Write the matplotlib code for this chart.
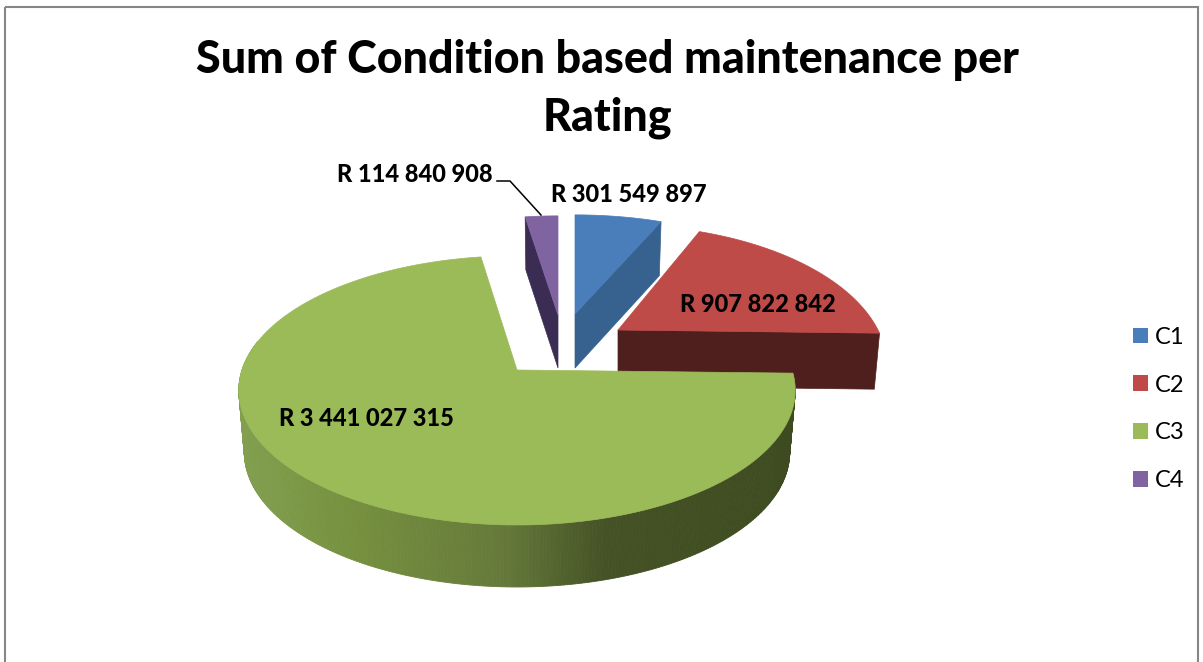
"""
Sum of Condition based maintenance per Rating - fake 3D exploded pie
"""

import numpy as np
import matplotlib
matplotlib.use("Agg")
import matplotlib.pyplot as plt
from matplotlib.colors import LinearSegmentedColormap
from matplotlib.patches import Patch, Polygon, Rectangle

categories = ["C1", "C2", "C3", "C4"]
values = [301549897, 907822842, 3441027315, 114840908]
colors = ["#4a7ebb", "#be4b48", "#9bbb59", "#8064a2"]
side_colors = ["#37618f", "#4f1f1d", "#6f8a42", "#3a2c52"]

# apex x, apex y, rx, ry, perspective, depth (pixels) for every slice
geometry = {
    "C1": (575, 314, 253, 114, 0.15, 54),
    "C2": (618, 330, 260, 132, 0.257, 56),
    "C3": (517, 370, 275, 131.5, 0.1515, 62),
    "C4": (558, 315, 250, 114, 0.15, 53),
}

plt.rcParams["font.family"] = ["Lato", "DejaVu Sans"]

fig = plt.figure(figsize=(12.03, 6.62), dpi=100)
ax = fig.add_axes([0, 0, 1, 1])
ax.set_xlim(0, 1203)
ax.set_ylim(662, 0)
ax.axis("off")

ax.add_patch(Rectangle((5, 7), 1193, 700, fill=False, edgecolor="#868686", linewidth=1.5))

# slice angles clockwise from 12 o'clock
fractions = np.array(values) / sum(values)
ends = np.cumsum(fractions) * 2 * np.pi
starts = ends - fractions * 2 * np.pi
angles = {c: (s, e) for c, s, e in zip(categories, starts, ends)}


def project(name, theta, bottom=False):
    cx, cy, rx, ry, k, depth = geometry[name]
    w = 1 + k * np.cos(theta)
    x = cx + rx * np.sin(theta) / w
    y = cy - ry * np.cos(theta) / w
    if bottom:
        # bottom rim sits lower and a little narrower
        x = cx + 0.98 * rx * np.sin(theta) / w
        y = y + depth
    return np.column_stack([x, y])


def top_face(name, color):
    s, e = angles[name]
    cx, cy = geometry[name][:2]
    rim = project(name, np.linspace(s, e, 200))
    pts = np.vstack([[cx, cy], rim])
    ax.add_patch(Polygon(pts, closed=True, facecolor=color, edgecolor=color, linewidth=0.5))


def cut_face(name, theta, color):
    cx, cy = geometry[name][:2]
    depth = geometry[name][5]
    a = project(name, np.array([theta]))[0]
    b = project(name, np.array([theta]), bottom=True)[0]
    pts = [[cx, cy], a, b, [cx, cy + depth]]
    ax.add_patch(Polygon(pts, closed=True, facecolor=color, edgecolor=color, linewidth=0.5))


# back slices first, C3 goes over them
cut_face("C4", angles["C4"][0], side_colors[3])
top_face("C4", colors[3])
cut_face("C1", angles["C1"][1], side_colors[0])
top_face("C1", colors[0])
cut_face("C2", angles["C2"][1], side_colors[1])
top_face("C2", colors[1])

# C3 rounded side, shaded left to right
shade = LinearSegmentedColormap.from_list(
    "c3side",
    [(0, "#82a050"), (0.2, "#76913f"), (0.48, "#65793a"), (0.66, "#445225"), (1, "#3e4b20")],
)
s3, e3 = angles["C3"]
thetas = np.linspace(s3, np.radians(283), 300)
upper = project("C3", thetas)
lower = project("C3", thetas, bottom=True)
for i in range(len(thetas) - 1):
    quad = np.vstack([upper[i], upper[i + 1], lower[i + 1], lower[i]])
    t = (quad[:, 0].mean() - 237) / (795 - 237)
    c = shade(t)
    ax.add_patch(Polygon(quad, closed=True, facecolor=c, edgecolor=c, linewidth=0.6))
top_face("C3", colors[2])

# labels
labels = [f"R {v:,}".replace(",", " ") for v in values]
label_size = 17
ax.text(629, 194, labels[0], fontsize=label_size, fontweight="black", ha="center", va="center")
ax.text(758, 304, labels[1], fontsize=label_size, fontweight="black", ha="center", va="center")
ax.text(366, 419, labels[2], fontsize=label_size, fontweight="black", ha="center", va="center")
ax.text(493, 175, labels[3], fontsize=label_size, fontweight="black", ha="right", va="center")
ax.plot([497, 510, 541], [181, 181, 215], color="black", linewidth=1.1)

ax.text(607, 60, "Sum of Condition based maintenance per", fontsize=32.2, fontweight="black",
        ha="center", va="center")
ax.text(607, 118, "Rating", fontsize=32.2, fontweight="black", ha="center", va="center")

handles = [Patch(facecolor=c, edgecolor="none", label=n) for c, n in zip(colors, categories)]
ax.legend(handles=handles, loc="center left", bbox_to_anchor=(1133 / 1203, 1 - 409 / 662),
          frameon=False, fontsize=17, handlelength=0.64, handleheight=0.64, handletextpad=0.3,
          labelspacing=1.14, borderpad=0, borderaxespad=0)

fig.savefig("out.png", dpi=100)
